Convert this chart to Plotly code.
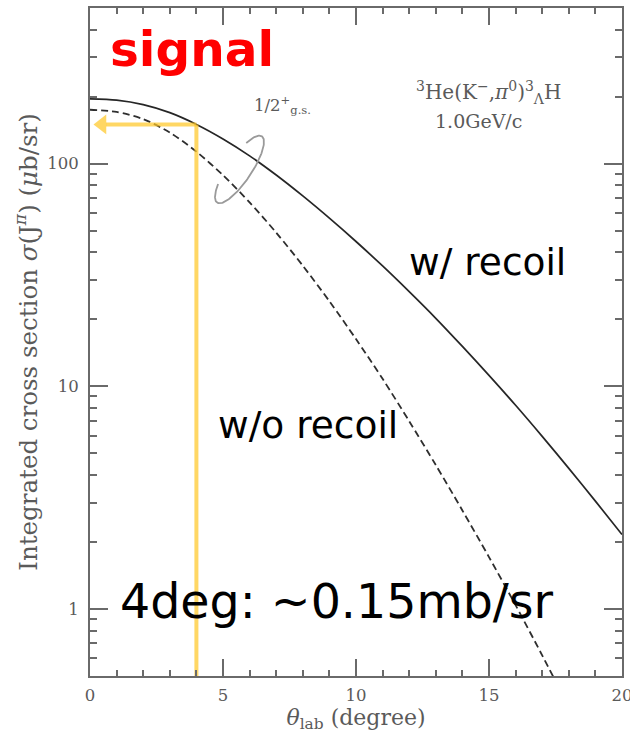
import numpy as np
import plotly.graph_objects as go

# Integrated cross section of 3He(K-, pi0) 3_Lambda H at 1.0 GeV/c (ub/sr)
theta_recoil = list(range(0, 21))
sigma_recoil = [195.4, 192.8, 184.1, 169.4, 150, 129.1, 108.4, 88.9, 71.6, 56.9,
                44.7, 34.7, 26.6, 20.2, 15.1, 11.2, 8.22, 5.96, 4.28, 3.05, 2.16]

theta_norecoil = list(range(0, 19))
sigma_norecoil = [174.6, 170.6, 158.5, 138.0, 113.2, 88.7, 67.0, 49.0, 34.8, 24.1,
                  16.3, 10.8, 6.97, 4.43, 2.77, 1.71, 1.04, 0.619, 0.363]

# Highlighted reading at 4 degrees
mark_theta = 4
mark_sigma = 150

x_range = [0, 20]
y_range = [np.log10(0.5), np.log10(500)]

W, H = 630, 738
ML, MR, MT, MB = 90, 8, 8, 62
PW, PH = W - ML - MR, H - MT - MB
px_per_deg = PW / (x_range[1] - x_range[0])
px_per_dec = PH / (y_range[1] - y_range[0])

GRAY = "#6a6a6a"
TXT = "#5a5a5a"
SERIF = "DejaVu Serif"
SANS = "DejaVu Sans"

fig = go.Figure()

fig.add_trace(go.Scatter(
    x=theta_recoil, y=sigma_recoil, mode="lines", name="w/ recoil",
    line=dict(color="#262626", width=1.7, shape="spline", smoothing=0.8),
))
fig.add_trace(go.Scatter(
    x=theta_norecoil, y=sigma_norecoil, mode="lines", name="w/o recoil",
    line=dict(color="#2e2e2e", width=1.8, dash="7px,4px", shape="spline", smoothing=0.8),
))

# hand-drawn style ellipse grouping the two ground-state curves
c_theta, c_log = 5.62, 1.974
a_px, b_px, ang = 40.0, 12.0, np.deg2rad(56)
t = np.deg2rad(np.linspace(50, -233, 120))
dx = a_px * np.cos(t) * np.cos(ang) - b_px * np.sin(t) * np.sin(ang)
dy = a_px * np.cos(t) * np.sin(ang) + b_px * np.sin(t) * np.cos(ang)
fig.add_trace(go.Scatter(
    x=c_theta + dx / px_per_deg, y=10 ** (c_log + dy / px_per_dec),
    mode="lines", line=dict(color="#9a9a9a", width=1.8), hoverinfo="skip",
))

# yellow guide: vertical at 4 deg and horizontal arrow to the axis
YEL = "rgba(255,200,40,0.72)"
fig.add_trace(go.Scatter(
    x=[mark_theta, mark_theta], y=[0.3, mark_sigma], mode="lines",
    line=dict(color=YEL, width=4), hoverinfo="skip",
))
fig.add_trace(go.Scatter(
    x=[mark_theta, 0.6], y=[mark_sigma, mark_sigma], mode="lines",
    line=dict(color=YEL, width=4), hoverinfo="skip",
))
fig.add_trace(go.Scatter(
    x=[0.45], y=[mark_sigma], mode="markers",
    marker=dict(symbol="triangle-left", size=17, color=YEL, line=dict(width=0)),
    hoverinfo="skip",
))

axis_common = dict(
    showline=True, linecolor=GRAY, linewidth=2, mirror="ticks",
    ticks="inside", tickcolor=GRAY, tickwidth=1.5, automargin=False,
    showgrid=False, zeroline=False, ticklabeloverflow="allow",
    tickfont=dict(family=SERIF, size=16.5, color=TXT),
)

fig.update_xaxes(
    range=x_range, dtick=5, tick0=0, ticklen=17,
    minor=dict(dtick=1, ticks="inside", ticklen=6, tickcolor=GRAY, tickwidth=1.5),
    title=dict(text="<i>θ</i><sub>lab</sub> (degree)",
               font=dict(family=SERIF, size=22, color=TXT), standoff=4),
    ticklabelstandoff=3,
    **axis_common,
)
fig.update_yaxes(
    type="log", range=y_range, dtick=1, ticklen=18,
    tickvals=[1, 10, 100], ticktext=["1", "10", "100"],
    minor=dict(dtick="D1", ticks="inside", ticklen=7, tickcolor=GRAY, tickwidth=1.5),
    title=dict(text="Integrated cross section <i>σ</i>(J<sup><i>π</i></sup>) (<i>μ</i>b/sr)",
               font=dict(family=SERIF, size=24.5, color=TXT), standoff=3),
    ticklabelstandoff=6,
    **axis_common,
)

annots = [
    dict(x=3.85, y=2.513, text="<b>signal</b>",
         font=dict(family=SANS, size=48.5, color="#ff0000")),
    dict(x=14.95, y=1.557, text="w/ recoil",
         font=dict(family=SANS, size=37.5, color="#000000")),
    dict(x=8.2, y=0.825, text="w/o recoil",
         font=dict(family=SANS, size=37.5, color="#000000")),
    dict(x=9.3, y=0.035, text="4deg: ~0.15mb/sr",
         font=dict(family=SANS, size=47.5, color="#000000")),
    dict(x=14.98, y=2.32,
         text="<sup>3</sup>He(K<sup>−</sup>,<i>π</i><sup>0</sup>)<sup>3</sup><sub>Λ</sub>H",
         font=dict(family=SERIF, size=20, color=TXT)),
    dict(x=14.6, y=2.19, text="1.0GeV/c",
         font=dict(family=SERIF, size=19, color=TXT)),
    dict(x=7.25, y=2.262, text="1/2<sup>+</sup><sub>g.s.</sub>",
         font=dict(family=SERIF, size=16.5, color=TXT)),
]
for a in annots:
    fig.add_annotation(xref="x", yref="y", showarrow=False,
                       xanchor="center", yanchor="middle", **a)

fig.update_layout(
    width=W, height=H,
    margin=dict(l=ML, r=MR, t=MT, b=MB, autoexpand=False),
    paper_bgcolor="white", plot_bgcolor="white",
    showlegend=False,
)

fig.write_html("out.html")
